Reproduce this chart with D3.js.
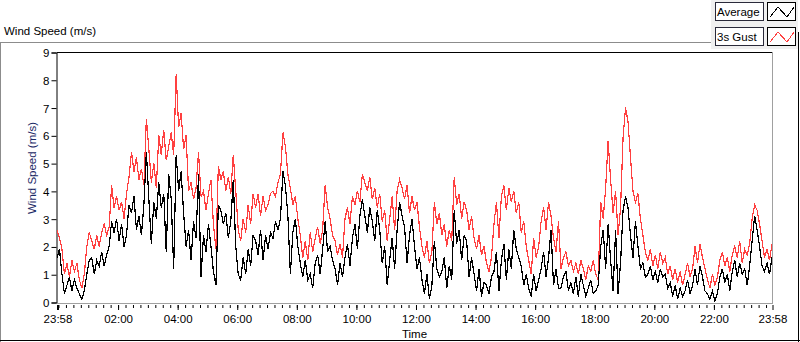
<!DOCTYPE html>
<html>
<head>
<meta charset="utf-8">
<script src="https://cdnjs.cloudflare.com/ajax/libs/d3/7.8.5/d3.min.js"></script>
<style>
    body { margin: 0; background: #fff; }
    svg text { font-family: "Liberation Sans", Arial, sans-serif; font-size: 11.5px; fill: #000; }
</style>
</head>
<body>
<div id="chart"></div>
<script>

// ---- data: 5 minute samples from 23:58 to 23:58 next day ----
let startTime = new Date(2020, 0, 1, 23, 58);
let endTime = new Date(2020, 0, 2, 23, 58);
let stepMinutes = 5;

let seriesNames = ['Average', '3s Gust'];

let gustValues = [
    2.6, 2.3, 1.9, 1.0, 1.4, 0.9, 1.5, 1.1, 1.4, 0.8, 0.5, 1.0, 2.0, 2.5, 2.2, 1.9, 2.4, 2.0, 2.5, 2.8, 2.4, 2.7, 4.2, 3.4,
    3.8, 3.3, 3.6, 3.0, 3.9, 4.5, 5.4, 4.7, 5.2, 4.4, 4.8, 4.2, 6.6, 5.5, 4.3, 5.0, 4.1, 6.0, 5.3, 6.2, 5.1, 5.6, 6.1, 5.3,
    8.2, 6.3, 6.8, 5.5, 6.0, 4.0, 4.3, 3.7, 4.1, 5.4, 3.8, 4.0, 3.3, 3.9, 4.4, 2.8, 1.9, 4.9, 4.4, 4.7, 4.0, 4.5, 3.9, 5.3,
    4.0, 2.6, 2.2, 3.0, 2.5, 3.5, 2.8, 3.9, 3.4, 3.9, 3.1, 3.8, 3.3, 3.5, 3.9, 4.0, 3.8, 4.3, 4.6, 6.1, 5.6, 4.6, 4.1, 3.5,
    3.8, 3.0, 2.4, 1.6, 2.2, 1.5, 2.5, 1.8, 2.3, 2.7, 2.1, 2.6, 4.2, 3.4, 3.0, 2.4, 2.2, 1.7, 2.1, 1.6, 3.0, 3.4, 2.8, 3.8,
    3.5, 4.0, 3.6, 4.6, 4.3, 4.0, 4.5, 3.7, 4.1, 3.4, 3.9, 2.9, 3.3, 2.2, 3.0, 3.8, 2.6, 4.0, 4.4, 4.1, 3.7, 4.2, 3.2, 3.8,
    3.3, 3.6, 2.7, 2.0, 1.6, 2.2, 1.4, 1.8, 3.6, 2.8, 3.2, 2.4, 2.8, 2.0, 2.6, 2.2, 4.5, 3.5, 3.9, 3.0, 3.6, 3.3, 2.6, 3.1,
    2.3, 1.9, 2.4, 1.7, 2.0, 1.4, 1.1, 1.6, 2.8, 3.6, 2.3, 3.8, 4.2, 3.3, 4.1, 3.6, 4.0, 3.2, 3.6, 2.5, 2.9, 2.0, 1.5, 1.0,
    2.3, 1.6, 2.0, 2.9, 3.4, 2.6, 3.6, 3.1, 2.3, 1.8, 2.9,
    1.2, 1.6, 1.8, 1.3, 1.5, 1.1, 1.4, 1.0, 1.5, 1.2, 0.8, 1.3, 1.1, 1.5, 1.0, 0.8, 3.6, 3.0, 4.1, 5.8, 4.4, 3.2, 4.0, 2.4,
    3.4, 5.9, 7.0, 6.5, 5.2, 4.0, 3.6, 3.9, 3.0, 2.4, 1.8, 1.5, 1.9, 1.3, 1.7, 1.2, 1.8, 1.4, 1.6, 1.0, 1.3, 0.8, 1.2, 0.7,
    1.1, 0.6, 1.0, 1.4, 0.9, 1.2, 2.0, 1.4, 2.1, 1.6, 1.2, 0.8, 0.5, 1.0, 0.6, 0.9, 1.5, 1.8, 1.3, 1.6, 1.1, 1.7, 2.0, 1.6,
    2.2, 1.4, 1.9, 1.7, 2.1, 3.0, 3.5, 3.3, 2.8, 2.2, 1.6, 1.9, 1.5, 2.1
];

let averageValues = [
    1.6, 1.9, 1.0, 0.3, 0.6, 0.9, 0.4, 0.8, 0.5, 0.3, 0.1, 0.4, 1.0, 1.5, 1.6, 1.0, 1.5, 1.3, 1.8, 1.3, 1.7, 2.0, 2.9, 2.5,
    3.0, 2.2, 2.8, 2.0, 2.4, 3.5, 3.2, 3.8, 2.6, 3.1, 2.4, 3.5, 5.4, 3.7, 2.1, 3.6, 3.0, 4.3, 3.4, 3.9, 1.8, 4.6, 3.7, 1.2,
    5.3, 4.0, 4.7, 3.2, 2.0, 2.6, 1.5, 2.9, 2.3, 4.6, 0.9, 2.4, 1.8, 2.8, 2.0, 1.1, 0.6, 3.5, 3.3, 2.8, 3.2, 2.3, 2.9, 4.4,
    2.0, 1.0, 0.8, 1.6, 1.0, 1.9, 1.3, 2.4, 2.2, 1.7, 2.6, 1.5, 2.4, 1.9, 2.5, 2.3, 2.9, 2.6, 3.0, 4.7, 4.2, 3.1, 1.0, 2.5,
    3.0, 2.0, 1.4, 0.9, 1.5, 0.8, 1.0, 0.5, 1.4, 1.7, 1.0, 1.9, 2.9, 1.8, 2.0, 1.5, 1.2, 0.6, 1.4, 0.9, 1.6, 2.1, 1.3, 2.3,
    2.8, 1.9, 3.1, 3.7, 3.1, 2.5, 3.4, 2.9, 2.2, 3.3, 2.6, 1.4, 2.0, 0.6, 1.5, 2.3, 1.2, 2.6, 3.6, 3.1, 2.7, 1.4, 2.4, 3.0,
    2.0, 1.2, 1.6, 0.8, 0.3, 1.0, 0.1, 0.6, 2.2, 1.2, 0.9, 1.1, 1.6, 0.5, 1.3, 0.8, 3.3, 2.1, 2.6, 1.5, 2.4, 2.2, 0.9, 1.6,
    1.0, 0.4, 1.2, 0.2, 0.7, 0.6, 0.3, 0.9, 1.1, 1.8, 0.4, 1.5, 2.1, 0.8, 1.9, 1.2, 2.6, 1.9, 1.6, 1.3, 0.6, 1.0, 0.5, 0.2,
    1.0, 0.4, 0.8, 1.2, 1.8, 0.9, 1.6, 2.6, 0.6, 1.2, 0.5,
    0.5, 0.9, 1.1, 0.4, 0.7, 0.3, 0.9, 0.2, 1.0, 0.6, 0.2, 0.5, 0.8, 0.3, 0.4, 0.6, 2.0, 2.6, 1.2, 2.8, 1.5, 0.4, 2.6, 0.3,
    1.4, 3.3, 3.8, 3.4, 2.4, 1.6, 2.9, 2.0, 1.2, 1.4, 0.9, 1.0, 1.3, 0.8, 1.1, 0.7, 1.2, 0.9, 1.0, 0.5, 0.7, 0.2, 0.6, 0.1,
    0.5, 0.2, 0.4, 0.8, 0.3, 0.6, 1.2, 0.6, 1.3, 0.9, 0.4, 0.3, 0.1, 0.4, 0.05, 0.3, 0.9, 1.2, 0.7, 1.0, 0.4, 1.1, 1.5, 0.9,
    1.4, 1.0, 1.2, 0.6, 1.3, 2.2, 3.1, 2.6, 2.0, 1.3, 1.1, 1.4, 1.0, 1.6
];

let yTickValues = [0, 1, 2, 3, 4, 5, 6, 7, 8, 9];
let xLabelHours = [2, 4, 6, 8, 10, 12, 14, 16, 18, 20, 22];

let seriesColors = {'Average': '#000000', '3s Gust': '#ff4040'};


class WindChart {

    constructor(parentElement) {
        this.parentElement = parentElement;
        this.initVis();
    }

    initVis() {
        let vis = this;

        vis.totalWidth = 800;
        vis.totalHeight = 342;
        vis.plot = {left: 57, top: 52, right: 772, bottom: 302};

        vis.svg = d3.select('#' + vis.parentElement).append('svg')
            .attr('width', vis.totalWidth)
            .attr('height', vis.totalHeight);

        // outer panel frame
        vis.svg.append('line')
            .attr('x1', 0).attr('y1', 42.5).attr('x2', 711).attr('y2', 42.5)
            .attr('stroke', '#8c8c8c');
        vis.svg.append('line')
            .attr('x1', 0.5).attr('y1', 42).attr('x2', 0.5).attr('y2', 342)
            .attr('stroke', '#8c8c8c');
        vis.svg.append('line')
            .attr('x1', 0).attr('y1', 340.5).attr('x2', 800).attr('y2', 340.5)
            .attr('stroke', '#000');
        vis.svg.append('line')
            .attr('x1', 798.5).attr('y1', 32).attr('x2', 798.5).attr('y2', 342)
            .attr('stroke', '#000');

        vis.svg.append('text')
            .attr('x', 4)
            .attr('y', 35)
            .text('Wind Speed (m/s)');

        // scales
        vis.xScale = d3.scaleTime()
            .domain([startTime, endTime])
            .range([vis.plot.left, vis.plot.right]);

        vis.yScale = d3.scaleLinear()
            .domain([0, 9])
            .range([vis.plot.bottom, vis.plot.top]);

        // plot frame: top/left dark, right/bottom grey
        vis.svg.append('line')
            .attr('x1', vis.plot.left).attr('y1', vis.plot.top + 0.5)
            .attr('x2', vis.plot.right + 1).attr('y2', vis.plot.top + 0.5)
            .attr('stroke', '#000');
        vis.svg.append('line')
            .attr('x1', vis.plot.right + 0.5).attr('y1', vis.plot.top)
            .attr('x2', vis.plot.right + 0.5).attr('y2', vis.plot.bottom + 1)
            .attr('stroke', '#a0a0a0');
        vis.svg.append('line')
            .attr('x1', vis.plot.left).attr('y1', vis.plot.bottom + 1.5)
            .attr('x2', vis.plot.right + 1).attr('y2', vis.plot.bottom + 1.5)
            .attr('stroke', '#a0a0a0');

        // y axis
        vis.yAxis = d3.axisLeft(vis.yScale)
            .tickValues(yTickValues)
            .tickSize(5)
            .tickPadding(2)
            .tickFormat(d3.format('d'));

        vis.yAxisGroup = vis.svg.append('g')
            .attr('class', 'y-axis axis')
            .attr('transform', `translate(${vis.plot.left - 0.5}, 0.5)`)
            .call(vis.yAxis);

        vis.yAxisGroup.select('.domain').attr('stroke', '#000');
        vis.yAxisGroup.selectAll('.tick line').attr('stroke', '#000');
        vis.yAxisGroup.selectAll('.tick text').attr('dy', '0.35em');

        // x axis: minor ticks every 15 minutes, labelled ticks every 2 hours
        let xMajor = [startTime].concat(xLabelHours.map(h => new Date(2020, 0, 2, h, 0)), [endTime]);

        vis.xMinorAxis = d3.axisBottom(vis.xScale)
            .ticks(d3.timeMinute.every(15))
            .tickSize(3)
            .tickFormat('');

        vis.svg.append('g')
            .attr('class', 'x-minor axis')
            .attr('transform', `translate(0.5, ${vis.plot.bottom + 3})`)
            .call(vis.xMinorAxis)
            .call(g => g.select('.domain').remove())
            .selectAll('.tick line').attr('stroke', '#000');

        vis.xAxis = d3.axisBottom(vis.xScale)
            .tickValues(xMajor)
            .tickSize(5)
            .tickPadding(5)
            .tickFormat(d3.timeFormat('%H:%M'));

        vis.xAxisGroup = vis.svg.append('g')
            .attr('class', 'x-axis axis')
            .attr('transform', `translate(0.5, ${vis.plot.bottom + 3})`)
            .call(vis.xAxis);

        vis.xAxisGroup.select('.domain').remove();
        vis.xAxisGroup.selectAll('.tick line')
            .attr('stroke', '#000')
            .attr('stroke-width', (d, i) => i === 0 ? 2 : 1);

        vis.svg.selectAll('.axis text')
            .attr('fill', '#000')
            .style('font-family', '"Liberation Sans", Arial, sans-serif')
            .style('font-size', '11.5px');

        // axis titles
        vis.svg.append('text')
            .attr('x', (vis.plot.left + vis.plot.right) / 2)
            .attr('y', 338)
            .attr('text-anchor', 'middle')
            .text('Time');

        vis.svg.append('text')
            .attr('transform', 'translate(36, 168) rotate(-90)')
            .attr('text-anchor', 'middle')
            .style('fill', '#1c2a66')
            .text('Wind Speed (m/s)');

        vis.drawLegend();
        vis.wrangleData();
    }

    drawLegend() {
        let vis = this;

        let legend = vis.svg.append('g').attr('class', 'legend');

        legend.append('rect')
            .attr('x', 711).attr('y', 0)
            .attr('width', 87).attr('height', 49)
            .attr('fill', '#f0f0f0');

        let item = legend.selectAll('.legend-item')
            .data(seriesNames)
            .enter().append('g')
            .attr('class', 'legend-item')
            .attr('transform', (d, i) => `translate(0, ${i * 25})`);

        item.append('rect')
            .attr('x', 715.5).attr('y', 2.5)
            .attr('width', 48).attr('height', 18)
            .attr('fill', '#fff')
            .attr('stroke', '#2a2a3a');

        item.append('text')
            .attr('x', 717)
            .attr('y', 16)
            .text(d => d);

        item.append('rect')
            .attr('x', 767.5).attr('y', 2.5)
            .attr('width', 28).attr('height', 18)
            .attr('fill', '#fff')
            .attr('stroke', '#000');

        item.append('path')
            .attr('d', 'M770,17L778,7L787,17L794,7')
            .attr('fill', 'none')
            .attr('stroke', d => seriesColors[d])
            .attr('shape-rendering', 'crispEdges');
    }

    wrangleData() {
        let vis = this;

        vis.series = [
            {name: '3s Gust', values: gustValues},
            {name: 'Average', values: averageValues}
        ].map(s => ({
            name: s.name,
            points: s.values.map((v, i) => ({time: d3.timeMinute.offset(startTime, i * stepMinutes), value: v}))
        }));

        vis.updateVis();
    }

    updateVis() {
        let vis = this;

        let line = d3.line()
            .x(d => vis.xScale(d.time))
            .y(d => vis.yScale(d.value));

        vis.svg.append('clipPath')
            .attr('id', 'plot-clip')
            .append('rect')
            .attr('x', vis.plot.left).attr('y', vis.plot.top)
            .attr('width', vis.plot.right - vis.plot.left + 1)
            .attr('height', vis.plot.bottom - vis.plot.top + 1);

        // LabVIEW-like aliased 1px traces, gust behind average
        vis.svg.append('g')
            .attr('clip-path', 'url(#plot-clip)')
            .selectAll('.series')
            .data(vis.series)
            .enter().append('path')
            .attr('class', 'series')
            .attr('d', d => line(d.points))
            .attr('fill', 'none')
            .attr('stroke', d => seriesColors[d.name])
            .attr('stroke-width', 1.2)
            .attr('shape-rendering', 'crispEdges');
    }
}

new WindChart('chart');
</script>
</body>
</html>
